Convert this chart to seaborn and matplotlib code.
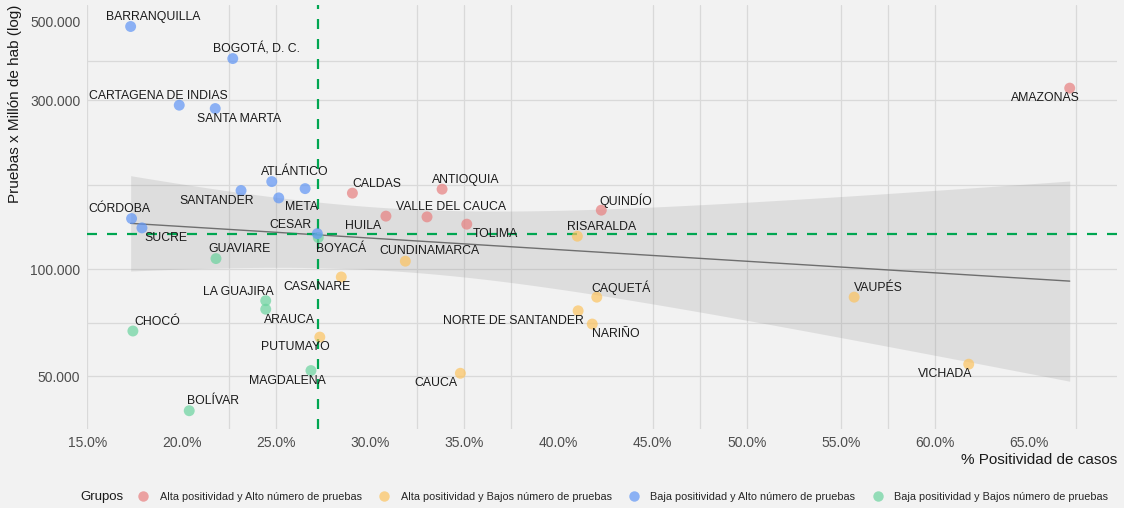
import numpy as np
import pandas as pd
import matplotlib
matplotlib.use("Agg")
import matplotlib.pyplot as plt
import seaborn as sns
from matplotlib.ticker import FixedLocator, FuncFormatter, NullFormatter
from matplotlib.lines import Line2D

# ---------------- data ----------------
departamentos = [
    "BARRANQUILLA", "BOGOTÁ, D. C.", "CARTAGENA DE INDIAS", "SANTA MARTA", "ATLÁNTICO",
    "SANTANDER", "", "META", "BOYACÁ", "CESAR", "CÓRDOBA", "SUCRE",
    "CALDAS", "ANTIOQUIA", "HUILA", "VALLE DEL CAUCA", "TOLIMA", "QUINDÍO", "AMAZONAS",
    "RISARALDA", "CUNDINAMARCA", "CASANARE", "CAQUETÁ", "NORTE DE SANTANDER", "NARIÑO",
    "CAUCA", "PUTUMAYO", "VAUPÉS", "VICHADA",
    "GUAVIARE", "LA GUAJIRA", "ARAUCA", "CHOCÓ", "MAGDALENA", "BOLÍVAR",
]
positividad = [  # % positividad de casos
    17.30, 22.72, 19.88, 21.79, 24.79,
    23.16, 26.56, 25.16, 27.26, 27.21, 17.35, 17.90,
    29.07, 33.83, 30.85, 33.03, 35.14, 42.28, 67.14,
    41.01, 31.88, 28.48, 42.04, 41.05, 41.80,
    34.80, 27.34, 55.70, 61.78,
    21.83, 24.47, 24.47, 17.42, 26.87, 20.41,
]
pruebas = [  # pruebas por millón de habitantes
    485200, 393900, 290900, 284600, 177000,
    167000, 169100, 159200, 123000, 126200, 139200, 131000,
    164200, 168500, 141400, 140700, 134200, 147000, 325000,
    124100, 105500, 95200, 83500, 76400, 70100,
    50900, 64400, 83500, 54000,
    107300, 81600, 77200, 67000, 51800, 39900,
]
G1 = "Alta positividad y Alto número de pruebas"
G2 = "Alta positividad y Bajos número de pruebas"
G3 = "Baja positividad y Alto número de pruebas"
G4 = "Baja positividad y Bajos número de pruebas"
grupos = (
    [G3] * 8 + [G4] + [G3] * 3 +
    [G1] * 7 +
    [G2] * 10 +
    [G4] * 6
)
grupo_orden = [G1, G2, G3, G4]
x_ticks = [15, 20, 25, 30, 35, 40, 45, 50, 55, 60, 65]
y_ticks = [50000, 100000, 300000, 500000]

# ---------------- styling ----------------
BG = "#f2f2f2"
palette = {G1: "#e87f7f", G2: "#fcc35f", G3: "#5f95f5", G4: "#6ad39e"}
legend_colors = {G1: "#eba1a1", G2: "#f9d18b", G3: "#8bb1f4", G4: "#93dcb7"}

# label offsets in pixels (dx, dy upward)
label_offsets = {
    "BARRANQUILLA": (23, 9.5), "BOGOTÁ, D. C.": (24, 9.5), "CARTAGENA DE INDIAS": (-21, 9.5),
    "SANTA MARTA": (24, -10), "ATLÁNTICO": (23, 9.5), "SANTANDER": (-24, -10),
    "META": (23, -9.5), "CALDAS": (24, 9.5), "ANTIOQUIA": (24, 9.5), "HUILA": (-23, -10),
    "VALLE DEL CAUCA": (24, 9.5), "TOLIMA": (29, -10), "QUINDÍO": (24, 9.5),
    "RISARALDA": (24, 9.5), "CUNDINAMARCA": (24, 10), "CASANARE": (-24, -10),
    "CAQUETÁ": (24, 9.5), "NORTE DE SANTANDER": (-65, -10), "NARIÑO": (24, -10),
    "CAUCA": (-24, -10), "PUTUMAYO": (-24, -10), "MAGDALENA": (-24, -10),
    "BOLÍVAR": (24, 9.5), "CHOCÓ": (24, 9), "LA GUAJIRA": (-27, 8.5), "ARAUCA": (24, -10.5),
    "GUAVIARE": (24, 9.5), "BOYACÁ": (23, -11), "CESAR": (-27, 8.5), "SUCRE": (24, -10),
    "CÓRDOBA": (-12, 10), "AMAZONAS": (-24, -9.5), "VAUPÉS": (24, 9.5), "VICHADA": (-24, -10),
}

sns.set_theme(style="whitegrid")
plt.rcParams["font.family"] = ["Liberation Sans", "DejaVu Sans"]
plt.rcParams["figure.facecolor"] = BG
plt.rcParams["axes.facecolor"] = BG

df = pd.DataFrame({"dep": departamentos, "pos": positividad, "pruebas": pruebas, "grupo": grupos})

W, H = 1124, 508
fig = plt.figure(figsize=(W / 100, H / 100), dpi=100)
L, R, T, B = 87.3, 1117, 5, 429
ax = fig.add_axes([L / W, 1 - B / H, (R - L) / W, (B - T) / H])
ax.set_facecolor(BG)
ax.set_yscale("log")

# regression (log10 y) with 95% CI
lx = df["pos"].to_numpy(float)
ly = np.log10(df["pruebas"].to_numpy(float))
slope, intercept = np.polyfit(lx, ly, 1)
n = len(lx)
resid = ly - (intercept + slope * lx)
s = np.sqrt(np.sum(resid ** 2) / (n - 2))
sxx = np.sum((lx - lx.mean()) ** 2)
xs = np.linspace(lx.min(), lx.max(), 200)
pred = intercept + slope * xs
se = s * np.sqrt(1 / n + (xs - lx.mean()) ** 2 / sxx)
tq = 2.0345
ax.fill_between(xs, 10 ** (pred - tq * se), 10 ** (pred + tq * se), color="#8c8c8c",
                alpha=0.2, lw=0, zorder=1)
ax.plot(xs, 10 ** pred, color="#6e6e6e", lw=1.0, zorder=1.5)

# medians
mx = np.median(lx)
my = np.median(df["pruebas"])
ax.axvline(mx, color="#00a651", lw=1.6, ls=(0, (4.5, 4.5)), zorder=2)
ax.axhline(my, color="#00a651", lw=1.6, ls=(0, (4.5, 4.5)), zorder=2)

sns.scatterplot(data=df, x="pos", y="pruebas", hue="grupo", hue_order=grupo_orden,
                palette=palette, s=62, alpha=0.7, edgecolor="none", linewidth=0,
                legend=False, ax=ax, zorder=3)

for name, xv, yv in zip(df["dep"], df["pos"], df["pruebas"]):
    if not name:
        continue
    dx, dy = label_offsets.get(name, (20, 9))
    ax.annotate(name, (xv, yv), xytext=(dx, dy), textcoords="offset pixels",
                ha="center", va="center", fontsize=8.8, color="#1a1a1a", zorder=4)

# axes limits / ticks / grid
ax.set_xlim(15, 69.65)
ax.set_ylim(35430, 558000)
ax.xaxis.remove_overlapping_locs = False
ax.yaxis.remove_overlapping_locs = False
ax.xaxis.set_major_locator(FixedLocator(x_ticks))
ax.xaxis.set_major_formatter(FuncFormatter(lambda v, p: f"{v:.1f}%"))
ax.yaxis.set_major_locator(FixedLocator(y_ticks))
ax.yaxis.set_major_formatter(FuncFormatter(lambda v, p: f"{int(round(v)):,}".replace(",", ".")))
ax.xaxis.set_minor_locator(FixedLocator([15, 22.5, 25, 32.5, 35, 37.5, 45, 47.5, 50, 55, 57.5, 60, 67.5]))
ax.yaxis.set_minor_locator(FixedLocator([50000, 70711, 100000, 173205, 300000, 387298]))
ax.xaxis.set_minor_formatter(NullFormatter())
ax.yaxis.set_minor_formatter(NullFormatter())
ax.grid(False, which="major")
ax.grid(True, which="minor", color="#d9d9d9", lw=0.9)
ax.set_axisbelow(True)
ax.tick_params(which="both", length=0, labelsize=10, labelcolor="#4d4d4d")
ax.tick_params(axis="x", pad=5)
ax.tick_params(axis="y", pad=5)
for sp in ax.spines.values():
    sp.set_visible(False)

ax.set_xlabel("% Positividad de casos", loc="right", fontsize=11, color="#1a1a1a", labelpad=2)
ax.set_ylabel("Pruebas x Millón de hab (log)", loc="top", fontsize=11, color="#1a1a1a", labelpad=6)

# legend
handles = [Line2D([0], [0], marker="o", ls="none", markersize=7.5,
                  markerfacecolor=legend_colors[g], markeredgecolor="none") for g in grupo_orden]
fig.text(80 / W, 11 / H, "Grupos", fontsize=9.5, color="#1a1a1a", va="center", ha="left")
fig.legend(handles, grupo_orden, loc="center left", bbox_to_anchor=(138 / W, 11 / H),
           ncol=4, frameon=False, fontsize=7.85, handlelength=1.0, handletextpad=1.0,
           columnspacing=1.55, borderpad=0, borderaxespad=0)

fig.savefig("out.png", dpi=100, facecolor=BG)
